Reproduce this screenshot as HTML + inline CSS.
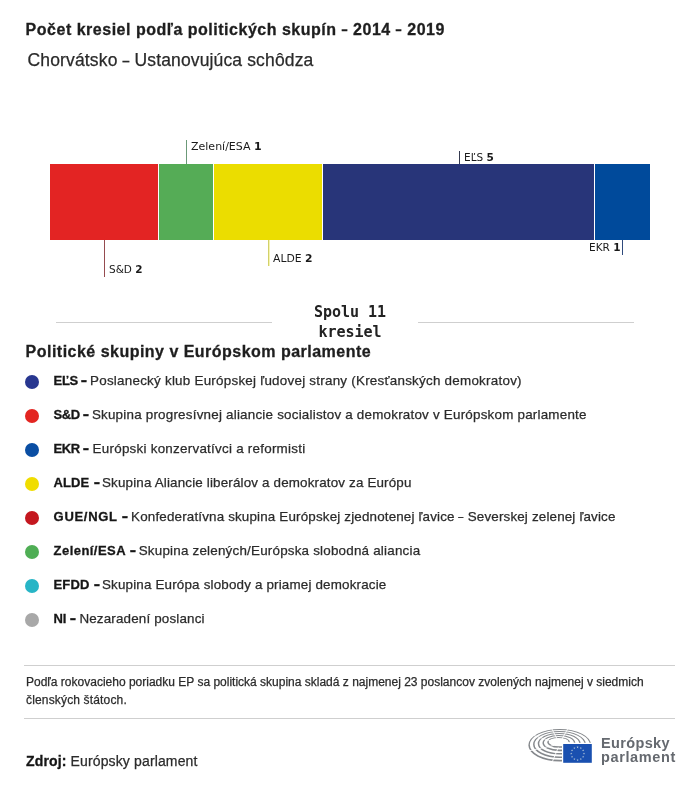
<!DOCTYPE html>
<html lang="sk">
<head>
<meta charset="utf-8">
<title>Počet kresiel podľa politických skupín – 2014 – 2019</title>
<style>
*{margin:0;padding:0;box-sizing:border-box}
html,body{width:700px;height:786px;background:#fff;overflow:hidden}
body{position:relative;font-family:"Liberation Sans",Arial,sans-serif;color:#222}
#w{position:absolute;left:0;top:0;width:700px;height:786px;will-change:transform;-webkit-text-stroke:.25px currentColor}
#title,#lh,.row b,#src b{-webkit-text-stroke:.3px currentColor}
.lab,#total,#lt{-webkit-text-stroke:0}
.a{position:absolute;white-space:nowrap;line-height:1}
.n{display:inline-block;transform:scaleX(.68);margin:0 -1.4px}
#title{left:25.6px;top:22.4px;font-size:16px;font-weight:700;letter-spacing:.51px;color:#1e1e1e}
#sub{left:27.6px;top:52.3px;font-size:17.5px;letter-spacing:.14px;color:#2a2a2a}
.seg{position:absolute;top:164px;height:76px}
.vl{position:absolute;width:1px}
.lab{position:absolute;white-space:nowrap;font-family:"DejaVu Sans",sans-serif;font-size:10.5px;line-height:1;color:#1a1a1a}
.lab b{font-weight:700}
.hr{position:absolute;height:1px;background:#cfcfcf}
#total{position:absolute;left:300px;top:302.3px;width:100px;text-align:center;font-family:"DejaVu Sans Mono",monospace;font-weight:700;font-size:15px;line-height:20px;color:#222}
#lh{left:25.6px;top:344.4px;font-size:16px;font-weight:700;letter-spacing:.48px;color:#1e1e1e}
.row{position:absolute;left:25px;width:640px;height:20px}
.dot{position:absolute;left:0;top:0;width:14px;height:14px;border-radius:50%}
.row>b,.row>span{position:absolute;top:-1.4px;white-space:nowrap;font-size:13px;line-height:1}
.k{left:28.6px;color:#161616}
.row b.d{color:#161616;font-size:19px;top:-5.5px;transform:scaleX(.55);transform-origin:0 0}
.row span.t{color:#2b2b2b;font-size:13.4px;top:-1.2px}
#foot{left:26px;top:674px;font-size:12px;line-height:17.6px;color:#2b2b2b}
#src{left:26px;top:753.7px;font-size:14px;color:#2b2b2b;letter-spacing:.14px}
#src b{color:#161616}
#logo{position:absolute;left:528px;top:727px;width:70px;height:40px}
#lt{position:absolute;left:601px;top:735.6px;font-size:14.5px;font-weight:700;line-height:14.5px;color:#65696f;letter-spacing:.35px}
#lt span{letter-spacing:.62px}
</style>
</head>
<body>
<div id="w">
<div class="a" id="title">Počet kresiel podľa politických skupín <span class="n">–</span> 2014 <span class="n">–</span> 2019</div>
<div class="a" id="sub">Chorvátsko <span class="n" style="transform:scaleX(.7);margin:0 -1.45px">–</span> Ustanovujúca schôdza</div>

<div class="seg" style="left:50px;width:108px;background:#e32423"></div>
<div class="seg" style="left:159px;width:54px;background:#55ac56"></div>
<div class="seg" style="left:214px;width:108px;background:#ebdd00"></div>
<div class="seg" style="left:323px;width:271px;background:#283579"></div>
<div class="seg" style="left:595px;width:55px;background:#004a9b"></div>

<div class="vl" style="left:186px;top:140px;height:24px;background:#6b9978"></div>
<div class="vl" style="left:459px;top:151px;height:13px;background:#353a50"></div>
<div class="vl" style="left:104px;top:240px;height:37px;background:#954b4f"></div>
<div class="vl" style="left:268px;top:240px;height:26px;background:#d2d16a"></div><div class="vl" style="left:269px;top:240px;height:26px;background:#f7f4b0"></div>
<div class="vl" style="left:622px;top:240px;height:15px;background:#2f4a7c"></div>

<div class="lab" style="left:191px;top:141px;font-size:11px">Zelení/ESA <b>1</b></div>
<div class="lab" style="left:464px;top:152px">EĽS <b>5</b></div>
<div class="lab" style="left:109px;top:264px">S&amp;D <b>2</b></div>
<div class="lab" style="left:273px;top:254px;font-size:10.8px">ALDE <b>2</b></div>
<div class="lab" style="left:589px;top:242px">EKR <b>1</b></div>

<div class="hr" style="left:56px;top:322px;width:216px"></div>
<div class="hr" style="left:418px;top:322px;width:216px"></div>
<div id="total">Spolu 11<br>kresiel</div>

<div class="a" id="lh">Politické skupiny v Európskom parlamente</div>

<div class="row" style="top:375px"><i class="dot" style="background:#283790"></i><b class="k" style="letter-spacing:-0.3px">EĽS</b><b class="d" style="left:55.5px">–</b><span class="t" style="left:65.0px;letter-spacing:0.25px">Poslanecký klub Európskej ľudovej strany (Kresťanských demokratov)</span></div>
<div class="row" style="top:409px"><i class="dot" style="background:#e32521"></i><b class="k" style="letter-spacing:-0.4px">S&amp;D</b><b class="d" style="left:57.9px">–</b><span class="t" style="left:66.9px;letter-spacing:0.22px">Skupina progresívnej aliancie socialistov a demokratov v Európskom parlamente</span></div>
<div class="row" style="top:443px"><i class="dot" style="background:#0a4ea3"></i><b class="k" style="letter-spacing:-0.4px">EKR</b><b class="d" style="left:57.9px">–</b><span class="t" style="left:67.6px;letter-spacing:0.255px">Európski konzervatívci a reformisti</span></div>
<div class="row" style="top:477px"><i class="dot" style="background:#f0dd00"></i><b class="k" style="letter-spacing:0.1px">ALDE</b><b class="d" style="left:68.5px">–</b><span class="t" style="left:77.0px;letter-spacing:0.165px">Skupina Aliancie liberálov a demokratov za Európu</span></div>
<div class="row" style="top:511px"><i class="dot" style="background:#c4171f"></i><b class="k" style="letter-spacing:0.7px">GUE/NGL</b><b class="d" style="left:97.4px">–</b><span class="t" style="left:106.1px;letter-spacing:0.167px">Konfederatívna skupina Európskej zjednotenej ľavice <span class="n" style="margin:0 -1.2px">–</span> Severskej zelenej ľavice</span></div>
<div class="row" style="top:545px"><i class="dot" style="background:#4fae55"></i><b class="k" style="letter-spacing:0.45px">Zelení/ESA</b><b class="d" style="left:104.5px">–</b><span class="t" style="left:113.7px;letter-spacing:0.213px">Skupina zelených/Európska slobodná aliancia</span></div>
<div class="row" style="top:579px"><i class="dot" style="background:#27b5c6"></i><b class="k" style="letter-spacing:0.1px">EFDD</b><b class="d" style="left:68.5px">–</b><span class="t" style="left:77.0px;letter-spacing:0.175px">Skupina Európa slobody a priamej demokracie</span></div>
<div class="row" style="top:613px"><i class="dot" style="background:#a8a8a8"></i><b class="k" style="letter-spacing:-0.3px">NI</b><b class="d" style="left:44.8px">–</b><span class="t" style="left:54.4px;letter-spacing:0.17px">Nezaradení poslanci</span></div>

<div class="hr" style="left:24px;top:665px;width:651px"></div>
<div class="a" id="foot">Podľa rokovacieho poriadku EP sa politická skupina skladá z najmenej 23 poslancov zvolených najmenej v siedmich<br><span style="letter-spacing:.16px">členských štátoch.</span></div>
<div class="hr" style="left:24px;top:718px;width:651px"></div>

<div class="a" id="src"><b>Zdroj:</b> Európsky parlament</div>

<svg id="logo" viewBox="528 727 70 40" width="70" height="40"><g fill="#85888c"><path d="M591.22 745.16A31.43 16.24 0 1 0 559.80 761.40L563 761.40L563 759.80L559.80 759.80A29.97 14.96 0 1 1 589.77 744.84Z"/><path d="M585.92 744.46A26.43 13.54 0 1 0 559.50 758.00L563 758.00L563 756.40L559.50 756.40A24.97 12.26 0 1 1 584.48 744.14Z"/><path d="M580.62 743.76A21.43 10.84 0 1 0 559.20 754.60L563 754.60L563 753.00L559.20 753.00A19.97 9.56 0 1 1 579.17 743.44Z"/><path d="M575.32 743.06A16.43 8.14 0 1 0 558.90 751.20L563 751.20L563 749.60L558.90 749.60A14.97 6.86 0 1 1 573.88 742.74Z"/><path d="M570.02 742.36A11.42 5.44 0 1 0 558.60 747.80L563 747.80L563 746.20L558.60 746.20A9.97 4.16 0 1 1 568.57 742.04Z"/></g><g stroke="#fff" stroke-width="0.9"><line x1="561.2" y1="740.6" x2="568.9" y2="726.7"/><line x1="557.9" y1="740.6" x2="550.7" y2="726.6"/><line x1="554.4" y1="742.1" x2="530.7" y2="734.5"/><line x1="554.0" y1="745.4" x2="528.2" y2="751.0"/><line x1="558.3" y1="747.4" x2="552.4" y2="761.6"/></g><rect x="562.6" y="743.4" width="29.8" height="20" fill="#1a50b0" stroke="#fff" stroke-width="1.2"/><g fill="#b9cbd9"><polygon points="577.60,746.05 577.87,746.83 578.69,746.84 578.04,747.34 578.28,748.13 577.60,747.66 576.92,748.13 577.16,747.34 576.51,746.84 577.33,746.83"/><polygon points="580.80,746.91 581.07,747.69 581.89,747.70 581.24,748.20 581.48,748.99 580.80,748.52 580.12,748.99 580.36,748.20 579.71,747.70 580.53,747.69"/><polygon points="583.14,749.25 583.41,750.03 584.24,750.04 583.58,750.54 583.82,751.33 583.14,750.86 582.47,751.33 582.71,750.54 582.05,750.04 582.87,750.03"/><polygon points="584.00,752.45 584.27,753.23 585.09,753.24 584.44,753.74 584.68,754.53 584.00,754.06 583.32,754.53 583.56,753.74 582.91,753.24 583.73,753.23"/><polygon points="583.14,755.65 583.41,756.43 584.24,756.44 583.58,756.94 583.82,757.73 583.14,757.26 582.47,757.73 582.71,756.94 582.05,756.44 582.87,756.43"/><polygon points="580.80,757.99 581.07,758.77 581.89,758.79 581.24,759.28 581.48,760.07 580.80,759.60 580.12,760.07 580.36,759.28 579.71,758.79 580.53,758.77"/><polygon points="577.60,758.85 577.87,759.63 578.69,759.64 578.04,760.14 578.28,760.93 577.60,760.46 576.92,760.93 577.16,760.14 576.51,759.64 577.33,759.63"/><polygon points="574.40,757.99 574.67,758.77 575.49,758.79 574.84,759.28 575.08,760.07 574.40,759.60 573.72,760.07 573.96,759.28 573.31,758.79 574.13,758.77"/><polygon points="572.06,755.65 572.33,756.43 573.15,756.44 572.49,756.94 572.73,757.73 572.06,757.26 571.38,757.73 571.62,756.94 570.96,756.44 571.79,756.43"/><polygon points="571.20,752.45 571.47,753.23 572.29,753.24 571.64,753.74 571.88,754.53 571.20,754.06 570.52,754.53 570.76,753.74 570.11,753.24 570.93,753.23"/><polygon points="572.06,749.25 572.33,750.03 573.15,750.04 572.49,750.54 572.73,751.33 572.06,750.86 571.38,751.33 571.62,750.54 570.96,750.04 571.79,750.03"/><polygon points="574.40,746.91 574.67,747.69 575.49,747.70 574.84,748.20 575.08,748.99 574.40,748.52 573.72,748.99 573.96,748.20 573.31,747.70 574.13,747.69"/></g></svg>
<div class="a" id="lt">Európsky<br><span>parlament</span></div>
</div>
</body>
</html>
